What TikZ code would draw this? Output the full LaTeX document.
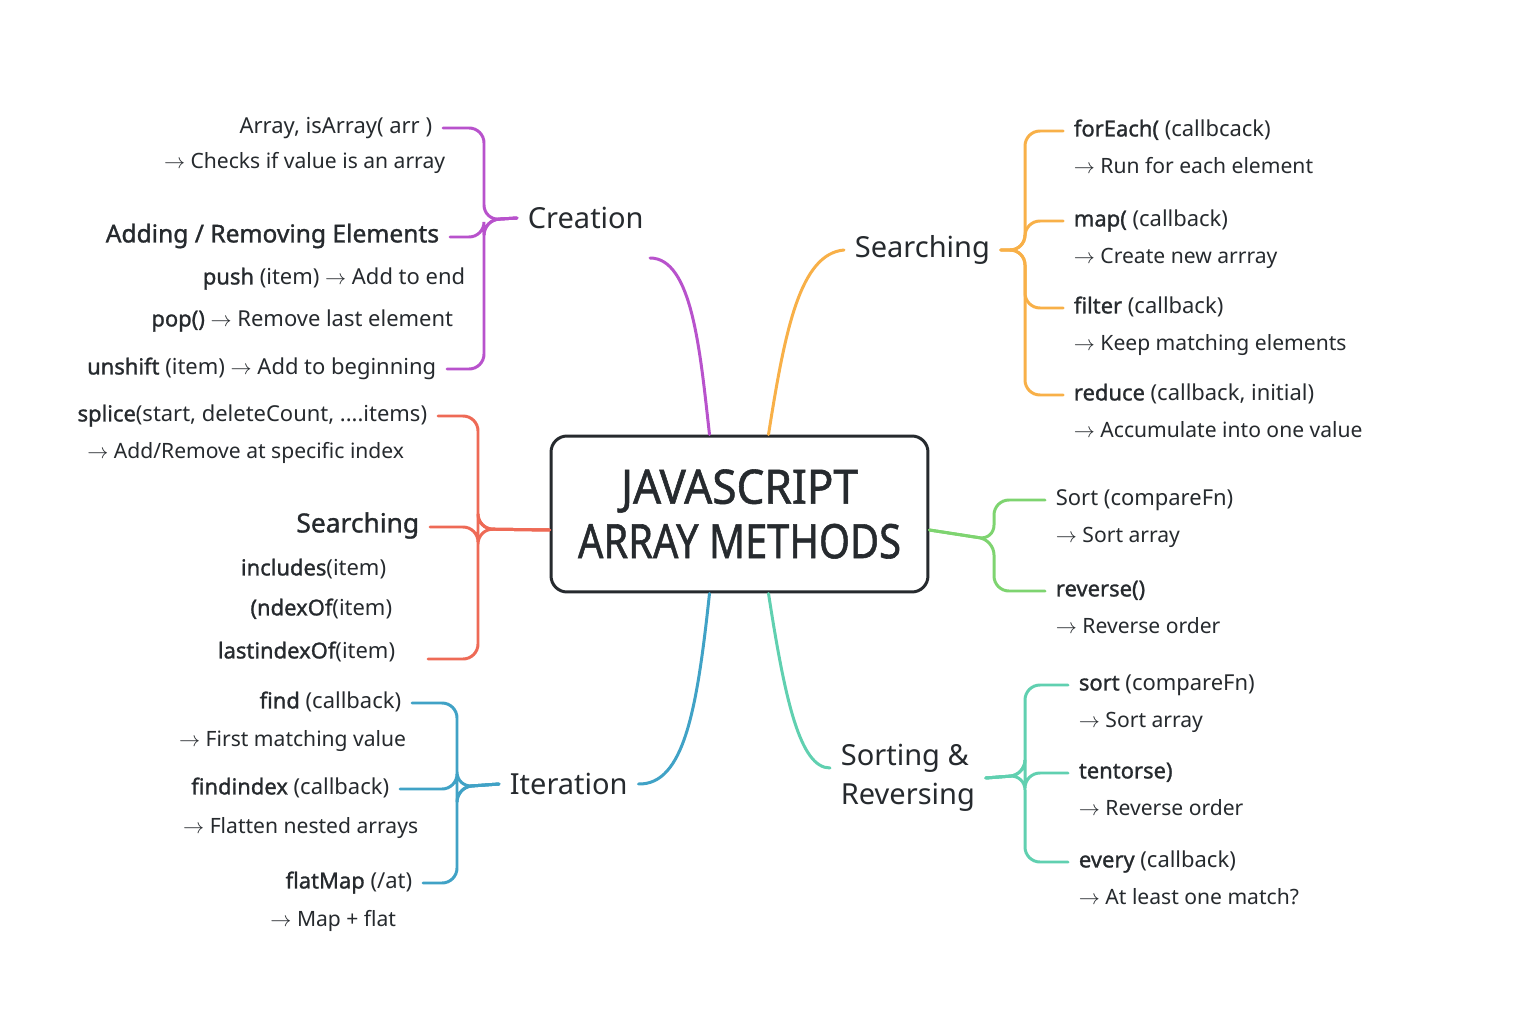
\documentclass[tikz,border=0pt]{standalone}
\usepackage{fontspec}
\setmainfont{Noto Sans}
\newfontfamily\medfont[FakeBold=1.2]{Noto Sans}
\usepackage{xcolor}
\usepackage{tikz}
\usetikzlibrary{positioning,calc}

\definecolor{ink}{RGB}{38,42,46}
\definecolor{purp}{RGB}{184,82,204}
\definecolor{orng}{RGB}{248,176,72}
\definecolor{redd}{RGB}{238,106,86}
\definecolor{grn}{RGB}{126,212,112}
\definecolor{teal}{RGB}{96,208,176}
\definecolor{blu}{RGB}{64,162,198}

\newcommand{\fn}[1]{{\medfont #1}}
\newcommand{\yields}{$\rightarrow$\ }
\newcommand{\narrow}[2]{\scalebox{#1}[1]{#2}}

\begin{document}
\begin{tikzpicture}[
        x=0.02cm, y=-0.02cm,
        item/.style={text=ink,font=\fontsize{12.5}{15}\selectfont,inner xsep=6pt,inner ysep=2pt,text height=1.6ex,text depth=.45ex},
        desc/.style={item,font=\fontsize{12}{15}\selectfont},
        head/.style={item,font=\fontsize{14}{17}\medfont},
        cat/.style={text=ink,font=\fontsize{16.5}{22}\selectfont,inner xsep=6pt,align=left},
        title/.style={rectangle,rounded corners=0.32cm,draw=ink,line width=1.7pt,fill=white,minimum width=7.54cm,minimum height=3.12cm,align=center,text=ink,font=\fontsize{27}{31}\medfont},
        branch/.style={line width=1.7pt,line cap=round},
        brace/.style={branch,rounded corners=0.3cm}
    ]
        \useasboundingbox[fill=white] (0,0) rectangle (1536,1024);

        \node[title] (cbox) at (739.5,514) {\narrow{0.93}{JAVASCRIPT}\\\narrow{0.84}{ARRAY METHODS}};

        % creation
        \node[cat,anchor=west] (creation) at (517,218) {Creation};
        \coordinate (cr-tail) at (650,258);
        \node[item,anchor=east] (isarr) at (443,128) {Array, isArray( arr )};
        \node[desc,anchor=east] (isarr-d) at (456,163) {\yields Checks if value is an array};
        \node[head,anchor=east] (addrm) at (450,237) {Adding / Removing Elements};
        \node[item,anchor=east] (push) at (476,279) {\fn{push} (item) \yields Add to end};
        \node[item,anchor=east] (pop) at (464,321) {\fn{pop()} \yields Remove last element};
        \node[item,anchor=east] (unshift) at (447,369) {\fn{unshift} (item) \yields Add to beginning};

        \draw[branch,purp] ($(cbox.north)+(-30,0)$) .. controls (700,350) and (692,258) .. (cr-tail);
        \draw[brace,purp] (creation.west) -- (484,220) |- (isarr.east);
        \draw[brace,purp] (creation.west) -- (484,220) |- (addrm.east);
        \draw[brace,purp] (creation.west) -- (484,220) |- (unshift.east);

        % searching (left)
        \node[item,anchor=east] (splice) at (438,416) {\fn{splice}(start, deleteCount, ....items)};
        \node[desc,anchor=east] (splice-d) at (415,453) {\yields Add/Remove at specific index};
        \node[head,anchor=east,font=\fontsize{15}{18}\medfont] (search-l) at (430,527) {Searching};
        \node[item,anchor=east] (incl) at (397,570) {\fn{includes}(item)};
        \node[item,anchor=east] (idx) at (403,610) {\fn{(ndexOf}(item)};
        \node[item,anchor=east] (lidx) at (406,653) {\fn{lastindexOf}(item)};

        \draw[brace,redd] ($(cbox.west)+(0,16)$) -- (478,529) |- (splice.east);
        \draw[brace,redd] ($(cbox.west)+(0,16)$) -- (478,529) |- (search-l.east);
        \draw[brace,redd] ($(cbox.west)+(0,16)$) -- (478,529) |- ([xshift=0.44cm,yshift=-0.12cm]lidx.east);

        % iteration
        \node[cat,anchor=west] (iter) at (499,784) {Iteration};
        \node[item,anchor=east] (find) at (412,703) {\fn{find} (callback)};
        \node[desc,anchor=east] (find-d) at (417,741) {\yields First matching value};
        \node[item,anchor=east] (findidx) at (400,789) {\fn{findindex} (callback)};
        \node[desc,anchor=east] (findidx-d) at (429,828) {\yields Flatten nested arrays};
        \node[item,anchor=east] (flatmap) at (423,883) {\fn{flatMap} (/at)};
        \node[desc,anchor=east] (flatmap-d) at (407,921) {\yields Map + flat};

        \draw[branch,blu] ($(cbox.south)+(-30,0)$) .. controls (697,710) and (684,785) .. (iter.east);
        \draw[brace,blu] (iter.west) -- (457,787) |- (find.east);
        \draw[brace,blu] (iter.west) -- (457,787) |- (findidx.east);
        \draw[brace,blu] (iter.west) -- (457,787) |- (flatmap.east);

        % searching (right)
        \node[cat,anchor=west] (search-r) at (844,250) {Searching};
        \node[item,anchor=west] (foreach) at (1063,131) {\fn{forEach(} (callbcack)};
        \node[desc,below=0.74cm of foreach.west,anchor=west] (foreach-d) {\yields Run for each element};
        \node[item,anchor=west] (map) at (1063,221) {\fn{map(} (callback)};
        \node[desc,below=0.74cm of map.west,anchor=west] (map-d) {\yields Create new arrray};
        \node[item,anchor=west] (filter) at (1063,308) {\fn{filter} (callback)};
        \node[desc,below=0.74cm of filter.west,anchor=west] (filter-d) {\yields Keep matching elements};
        \node[item,anchor=west] (reduce) at (1063,395) {\fn{reduce} (callback, initial)};
        \node[desc,below=0.74cm of reduce.west,anchor=west] (reduce-d) {\yields Accumulate into one value};

        \draw[branch,orng] ($(cbox.north)+(29,0)$) .. controls (785,330) and (800,254) .. (search-r.west);
        \draw[brace,orng] (search-r.east) -- (1025,250) |- (foreach.west);
        \draw[brace,orng] (search-r.east) -- (1025,250) |- (map.west);
        \draw[brace,orng] (search-r.east) -- (1025,250) |- (filter.west);
        \draw[brace,orng] (search-r.east) -- (1025,250) |- (reduce.west);

        % sorting (green)
        \node[item,anchor=west] (sortc) at (1045,500) {Sort (compareFn)};
        \node[desc,below=0.74cm of sortc.west,anchor=west] (sortc-d) {\yields Sort array};
        \node[item,anchor=west] (rev) at (1045,591) {\fn{reverse()}};
        \node[desc,below=0.74cm of rev.west,anchor=west] (rev-d) {\yields Reverse order};

        \draw[brace,grn] ($(cbox.east)+(0,16)$) -- (994,540) |- (sortc.west);
        \draw[brace,grn] ($(cbox.east)+(0,16)$) -- (994,540) |- (rev.west);

        % sorting & reversing
        \node[cat,anchor=west] (sortrev) at (830,778) {Sorting \&\\Reversing};
        \node[item,anchor=west] (sort) at (1068,685) {\fn{sort} (compareFn)};
        \node[desc,below=0.74cm of sort.west,anchor=west] (sort-d) {\yields Sort array};
        \node[item,anchor=west] (tent) at (1068,773) {\fn{tentorse)}};
        \node[desc,below=0.74cm of tent.west,anchor=west] (tent-d) {\yields Reverse order};
        \node[item,anchor=west] (every) at (1068,862) {\fn{every} (callback)};
        \node[desc,below=0.74cm of every.west,anchor=west] (every-d) {\yields At least one match?};

        \draw[branch,teal] ($(cbox.south)+(29,0)$) .. controls (785,700) and (800,768) .. ([yshift=0.2cm]sortrev.west);
        \draw[brace,teal] (sortrev.east) -- (1025,775) |- (sort.west);
        \draw[brace,teal] (sortrev.east) -- (1025,775) |- (tent.west);
        \draw[brace,teal] (sortrev.east) -- (1025,775) |- (every.west);
    \end{tikzpicture}
\end{document}
